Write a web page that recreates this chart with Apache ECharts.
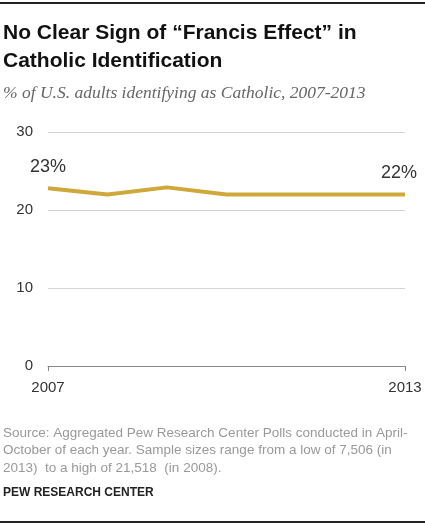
<!DOCTYPE html>
<html>
<head>
<meta charset="utf-8">
<script src="https://cdn.jsdelivr.net/npm/echarts@6/dist/echarts.min.js"></script>
<style>html,body{margin:0;padding:0;background:#fff;}#c{width:425px;height:525px;}</style>
</head>
<body>
<div id="c"></div>
<script>
var years = ['2007','2008','2009','2010','2011','2012','2013'];
var catholicPct = [22.8, 22.0, 22.9, 22.0, 22.0, 22.0, 22.0];
var endLabels = ['23%', '', '', '', '', '', '22%'];
var yTicks = [0, 10, 20, 30];

var titleText = 'No Clear Sign of \u201cFrancis Effect\u201d in\nCatholic Identification';
var subtitleText = '% of U.S. adults identifying as Catholic, 2007-2013';
var sourceText = 'Source: Aggregated Pew Research Center Polls conducted in April-\nOctober of each year. Sample sizes range from a low of 7,506 (in\n2013)  to a high of 21,518  (in 2008).';
var creditText = 'PEW RESEARCH CENTER';

var seriesData = catholicPct.map(function (v, i) {
  var d = {value: v};
  if (i === catholicPct.length - 1) d.label = {offset: [-6, 0]};
  return d;
});

var chart = echarts.init(document.getElementById('c'), null, {renderer: 'canvas'});
var font = '"Liberation Sans", Arial, sans-serif';
chart.setOption({
  animation: false,
  textStyle: {fontFamily: font},
  title: [
    {text: titleText, left: 3, top: 19, padding: 0,
     textStyle: {fontFamily: font, fontWeight: 'bold', fontSize: 21, lineHeight: 28, color: '#111'}},
    {text: subtitleText, left: 3, top: 84, padding: 0,
     textStyle: {fontFamily: '"Liberation Serif", serif', fontStyle: 'italic', fontWeight: 'normal', fontSize: 17.5, color: '#666'}},
    {text: sourceText, left: 3, top: 424, padding: 0,
     textStyle: {fontFamily: font, fontWeight: 'normal', fontSize: 13.5, lineHeight: 17.8, color: '#999'}},
    {text: creditText, left: 3, top: 487, padding: 0,
     textStyle: {fontFamily: font, fontWeight: 'bold', fontSize: 12, color: '#222'}}
  ],
  graphic: [
    {type: 'line', shape: {x1: 0, y1: 3, x2: 425, y2: 3}, style: {stroke: '#222', lineWidth: 2}},
    {type: 'line', shape: {x1: 0, y1: 522, x2: 425, y2: 522}, style: {stroke: '#222', lineWidth: 2}}
  ],
  grid: {left: 48, right: 20, top: 132, bottom: 159, containLabel: false},
  xAxis: {
    type: 'category', data: years, boundaryGap: false,
    axisLine: {show: true, lineStyle: {color: '#888', width: 1}},
    axisTick: {show: true, length: 5, inside: false, lineStyle: {color: '#888'},
      interval: function (i) { return i === 0 || i === years.length - 1; }},
    axisLabel: {color: '#333', fontSize: 15, margin: 14,
      interval: function (i) { return i === 0 || i === years.length - 1; }},
    splitLine: {show: false}
  },
  yAxis: {
    type: 'value', min: yTicks[0], max: yTicks[yTicks.length - 1], interval: 10,
    axisLine: {show: false}, axisTick: {show: false},
    axisLabel: {color: '#333', fontSize: 15, margin: 15},
    splitLine: {lineStyle: {color: '#d4d4d4', width: 1}}
  },
  series: [{
    type: 'line', data: seriesData, symbol: 'circle', symbolSize: 1, showSymbol: true,
    itemStyle: {color: 'rgba(0,0,0,0)'},
    lineStyle: {color: '#CFA83A', width: 4},
    label: {show: true, position: 'top', distance: 12, fontSize: 18, color: '#333',
      formatter: function (p) { return endLabels[p.dataIndex]; }}
  }]
});
</script>
</body>
</html>
